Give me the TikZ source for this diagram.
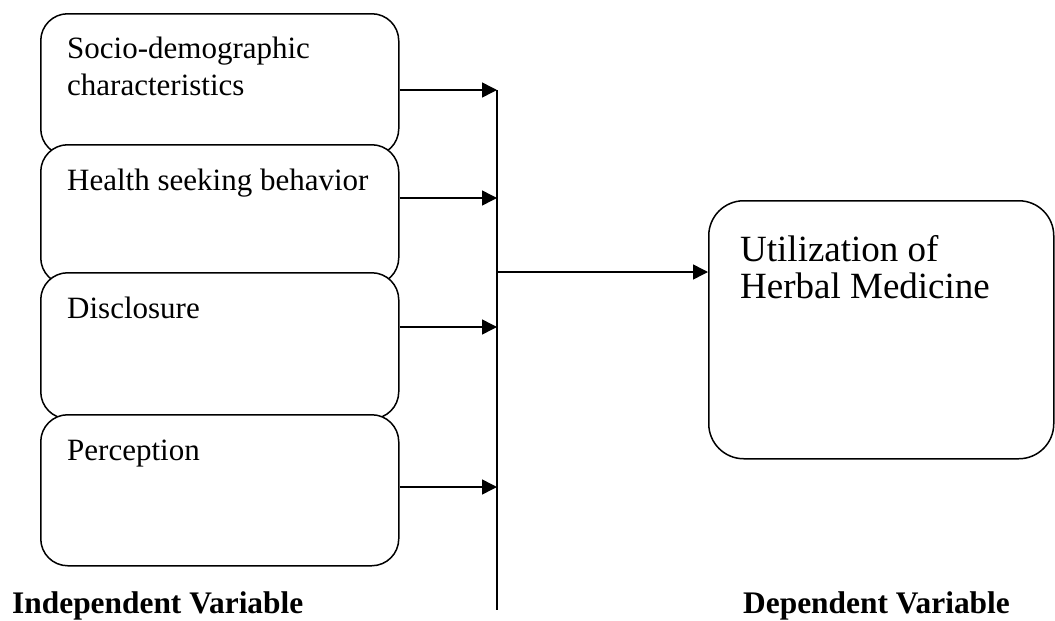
\documentclass[tikz,border=0pt]{standalone}
\usepackage{fontspec}
\setmainfont{Liberation Serif}
\usetikzlibrary{arrows.meta}
\begin{document}
\begin{tikzpicture}[x=1pt,y=-1pt,
  box/.style={draw=black,line width=1.5pt,fill=white,rounded corners=27pt,inner sep=0pt,anchor=north west},
  bigbox/.style={draw=black,line width=1.5pt,fill=white,rounded corners=35pt,inner sep=0pt,anchor=north west},
  txt/.style={anchor=base west,inner sep=0pt,align=left,font=\fontsize{31}{37}\selectfont},
  bigtxt/.style={anchor=base west,inner sep=0pt,align=left,font=\fontsize{37}{36.5}\selectfont},
  lbl/.style={anchor=base west,inner sep=0pt,font=\fontsize{31.4}{37}\selectfont\bfseries},
  conn/.style={line width=1.5pt},
  arr/.style={line width=1.5pt,-{Triangle[length=15pt,width=15pt]}}]
\useasboundingbox (0,0) rectangle (1055,621);
% left boxes
\node[box,minimum width=358pt,minimum height=142pt] (b1) at (40,13) {};
\node[txt] (t1) at (67,95) {Socio-demographic\\characteristics};
\node[box,minimum width=358pt,minimum height=140pt] (b2) at (40,144) {};
\node[txt] (t2) at (67,190) {Health seeking behavior};
\node[box,minimum width=358pt,minimum height=146pt] (b3) at (40,272) {};
\node[txt] (t3) at (67,318) {Disclosure};
\node[box,minimum width=358pt,minimum height=151pt] (b4) at (40,414) {};
\node[txt] (t4) at (67,460) {Perception};
% right box
\node[bigbox,minimum width=345pt,minimum height=258pt] (r) at (708,200) {};
\node[bigtxt] (tr) at (740,298) {Utilization of\\Herbal Medicine};
% bus
\coordinate (j1) at (497,90);
\coordinate (j2) at (497,198);
\coordinate (j3) at (497,327);
\coordinate (j4) at (497,487);
\coordinate (jm) at (497,272);
\coordinate (jb) at (497,610);
\draw[conn] (j1) -- (jb);
\draw[arr] (b1.east |- j1) -- (j1);
\draw[arr] (b2.east |- j2) -- (j2);
\draw[arr] (b3.east |- j3) -- (j3);
\draw[arr] (b4.east |- j4) -- (j4);
\draw[arr] (jm) -- (r.west |- jm);
% labels
\node[lbl] (li) at (12,613) {Independent Variable};
\node[lbl] (ld) at (743,613) {Dependent Variable};
\end{tikzpicture}
\end{document}
